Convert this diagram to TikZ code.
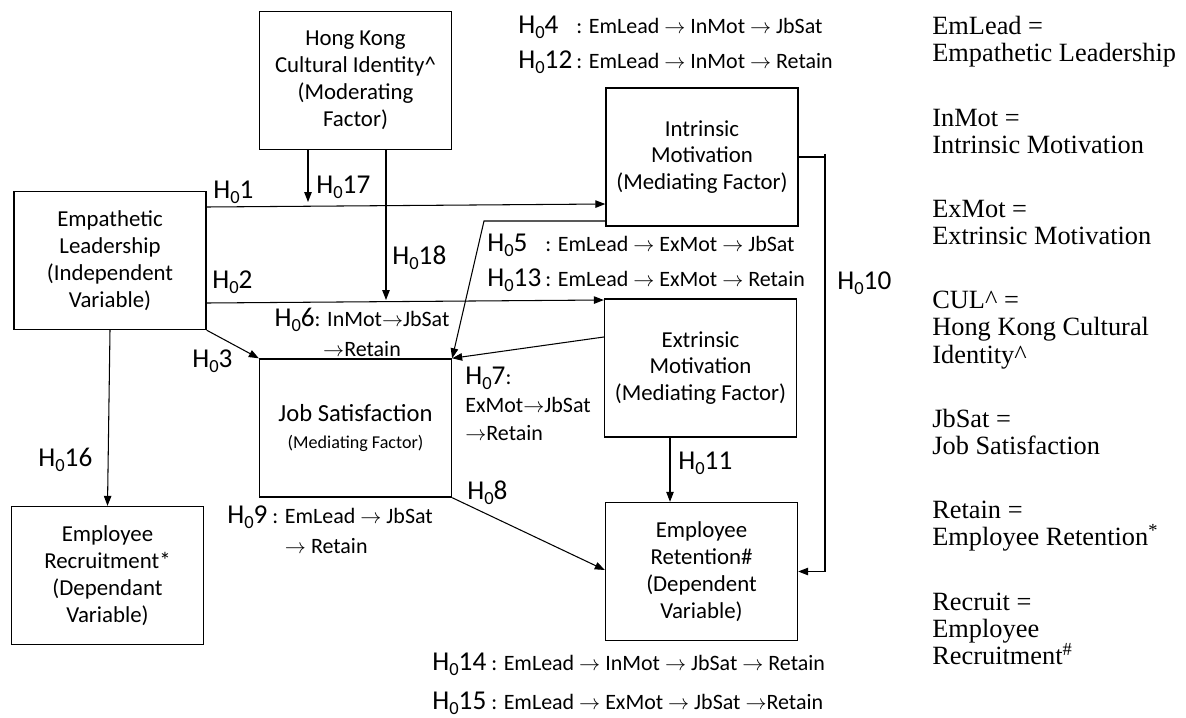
\documentclass[tikz,border=0pt]{standalone}
\usepackage{fontspec}
\setmainfont{Liberation Serif}
\setsansfont{Carlito}
\usetikzlibrary{arrows.meta,positioning}
\newcommand{\Hn}[1]{H\raisebox{-0.4ex}{\scalebox{0.68}{0}}#1}
\newcommand{\Hb}[1]{{\fontsize{15.5}{16}\selectfont\Hn{#1}}}
\newcommand{\hyp}[2]{\makebox[33pt][l]{\Hb{#1}}: #2}
\newcommand{\ra}{$\rightarrow$}
\tikzset{
  >={Triangle[length=2mm,width=1.5mm]},
  box/.style={draw,line width=0.8pt,minimum width=3.84cm,minimum height=2.76cm,
    align=center,font=\sffamily\fontsize{13}{15.3}\selectfont},
  link/.style={->,line width=0.6pt},
  hlab/.style={font=\sffamily\fontsize{15.5}{18}\selectfont,inner sep=0pt},
  chain/.style={font=\sffamily\fontsize{12.5}{#1}\selectfont,inner sep=0pt,align=left},
  chain/.default=20pt,
  legend/.style={font=\fontsize{15}{15.5}\selectfont,align=left,inner sep=0pt},
}
\begin{document}
\begin{tikzpicture}[x=0.02cm,y=-0.02cm]
  \useasboundingbox (0,0) rectangle (1186,717);
  % constructs
  \node[box] (cul) at (355.5,80.5) {Hong Kong\\Cultural Identity\textasciicircum\\(Moderating\\Factor)};
  \node[box] (lead) at (110,260.5) {Empathetic\\Leadership\\(Independent\\Variable)};
  \node[box] (inmot) at (702,157) {Intrinsic\\Motivation\\(Mediating Factor)};
  \node[box] (exmot) at (700.5,368) {Extrinsic\\Motivation\\(Mediating Factor)};
  \node[box] (jbsat) at (355.5,428) {{\fontsize{14}{17}\selectfont Job Satisfaction}\\{\fontsize{10.3}{13}\selectfont (Mediating Factor)}};
  \node[box] (recruit) at (107.5,575.5) {Employee\\Recruitment*\\(Dependant\\Variable)};
  \node[box] (retain) at (701.5,571.5) {Employee\\Retention\#\\(Dependent\\Variable)};
  % bends and ends on lines
  \coordinate (m17) at (308,202);
  \coordinate (m18) at (386,300);
  \coordinate (bend) at (484,221);
  \coordinate (c10) at (825,154);
  % paths
  \draw[link] (lead.east |- 0,207) -- (inmot.west |- 0,204);
  \draw[link] (lead.east |- 0,303) -- (exmot.west |- 0,300);
  \draw[link] (cul.south -| m17) -- (m17);
  \draw[link] (cul.south -| m18) -- (m18);
  \draw[link] (lead.south east) -- (jbsat.north west);
  \draw[link] (inmot.west |- bend) -- (bend) -- (jbsat.north east);
  \draw[link] (exmot.west |- 0,337) -- (jbsat.north east);
  \draw[link] (jbsat.south east) -- (retain.west |- 0,570);
  \draw[link] (exmot.south -| 670,0) -- (retain.north -| 670,0);
  \draw[line width=0.6pt] (inmot.east) -- (inmot.east -| c10);
  \draw[link] (c10) |- (retain.east);
  \draw[link] (lead.south) -- (recruit.north);
  % hypothesis labels
  \node[hlab,anchor=west] (l1) at (213,192) {\Hn{1}};
  \node[hlab,anchor=west] (l17) at (316,187) {\Hn{17}};
  \node[hlab,anchor=west] (l18) at (392,258) {\Hn{18}};
  \node[hlab,anchor=west] (l2) at (212,282) {\Hn{2}};
  \node[hlab,anchor=west] (l3) at (192,361) {\Hn{3}};
  \node[hlab,anchor=west] (l8) at (467,493) {\Hn{8}};
  \node[hlab,anchor=west] (l10) at (837,283) {\Hn{10}};
  \node[hlab,anchor=west] (l11) at (678,463) {\Hn{11}};
  \node[hlab,anchor=west] (l16) at (38,460) {\Hn{16}};
  \node[chain,anchor=west] (h4) at (518,45) {\hyp{4}{EmLead \ra{} InMot \ra{} JbSat}\\\hyp{12}{EmLead \ra{} InMot \ra{} Retain}};
  \node[chain,anchor=west] (h5) at (487,262.5) {\hyp{5}{EmLead \ra{} ExMot \ra{} JbSat}\\\hyp{13}{EmLead \ra{} ExMot \ra{} Retain}};
  \node[chain=17pt,align=center] (h6) at (362,332) {\Hb{6}: InMot\ra JbSat\\\ra Retain};
  \node[chain=16pt,anchor=west] (h7) at (465,404) {\Hb{7}:\\ExMot\ra JbSat\\\ra Retain};
  \node[chain=17pt,anchor=west] (h9) at (227,532) {\Hb{9} : EmLead \ra{} JbSat\\\phantom{\Hb{9} : }\ra{} Retain};
  \node[chain=22pt,anchor=west] (h14) at (432,684) {\Hb{14} : EmLead \ra{} InMot \ra{} JbSat \ra{} Retain\\\Hb{15} : EmLead \ra{} ExMot \ra{} JbSat \ra Retain};
  % abbreviations
  \node[legend,anchor=north west] (key) at (932,16) {EmLead =\\Empathetic Leadership\\[21pt]InMot =\\Intrinsic Motivation\\[21pt]ExMot =\\Extrinsic Motivation\\[21pt]CUL\textasciicircum{} =\\Hong Kong Cultural\\Identity\textasciicircum\\[21pt]JbSat =\\Job Satisfaction\\[21pt]Retain =\\Employee Retention\textsuperscript{*}\\[21pt]Recruit =\\Employee\\Recruitment\textsuperscript{\#}};
\end{tikzpicture}
\end{document}
